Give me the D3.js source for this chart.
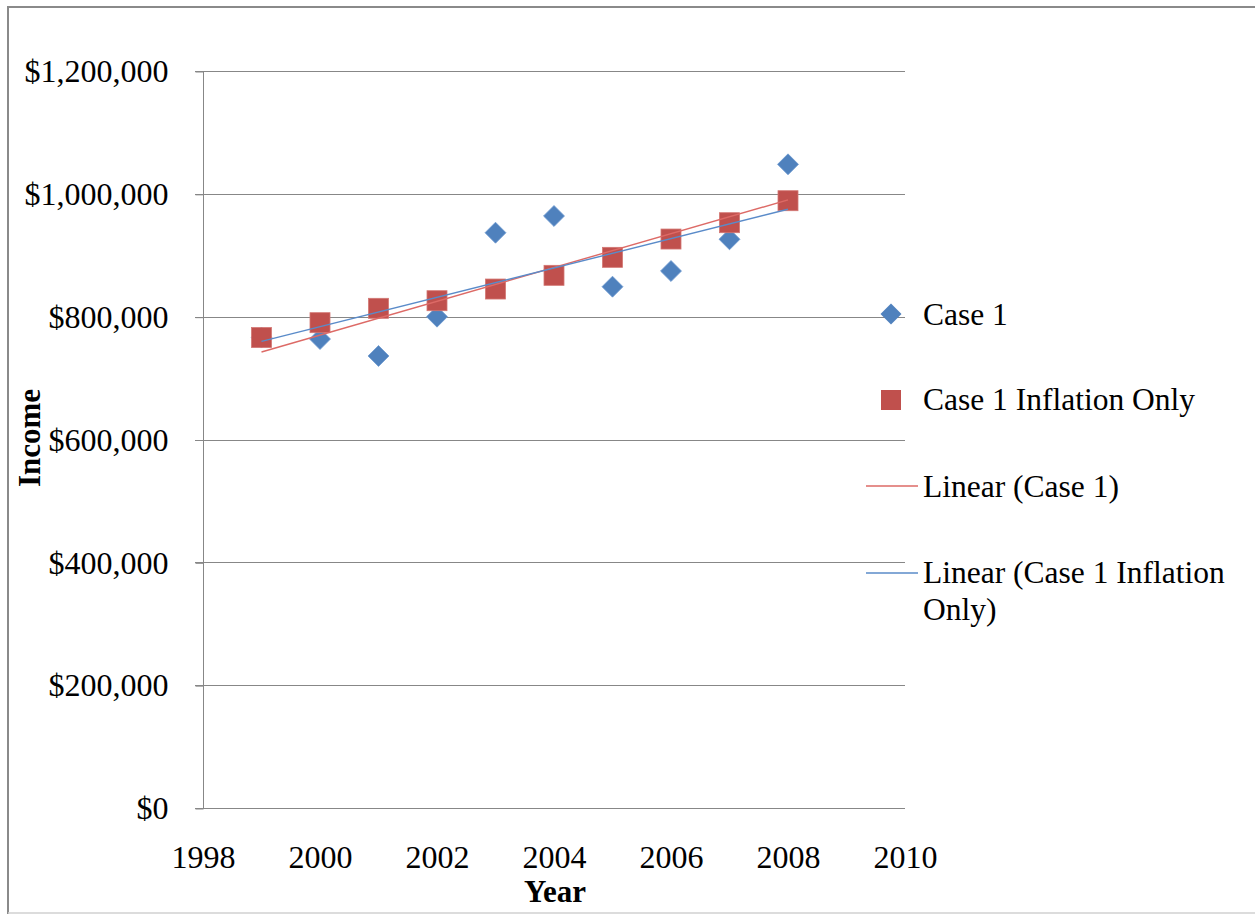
<!DOCTYPE html>
<html>
<head>
<meta charset="utf-8">
<script src="https://cdn.jsdelivr.net/npm/d3@7"></script>
<style>
  html, body { margin: 0; padding: 0; background: #fff; }
  svg { display: block; font-family: "Liberation Serif", "Times New Roman", serif; }
</style>
</head>
<body>
<svg id="chart" width="1255" height="914"></svg>
<script>
// Income by year
const years = [1999, 2000, 2001, 2002, 2003, 2004, 2005, 2006, 2007, 2008];
const case1 = [766000, 763600, 736000, 800000, 936700, 963900, 848800, 874300, 926000, 1048000];
const case1Inflation = [766000, 790200, 813600, 826000, 845000, 867300, 896600, 926400, 953000, 988800];

const xTicks = [1998, 2000, 2002, 2004, 2006, 2008, 2010];
const yTicks = [0, 200000, 400000, 600000, 800000, 1000000, 1200000];

const legendLabels = ["Case 1", "Case 1 Inflation Only", "Linear (Case 1)", "Linear (Case 1 Inflation Only)"];

const blue = "#4F81BD", red = "#C0504D";
const trendRed = "#DD6A66", trendBlue = "#5A8BC9";
const gridColor = "#878787";

const svg = d3.select("#chart");

// outer frame
svg.append("line").attr("x1", 8).attr("x2", 1255).attr("y1", 7).attr("y2", 7)
  .attr("stroke", "#8a8a8a").attr("stroke-width", 2);
svg.append("line").attr("x1", 8).attr("x2", 8).attr("y1", 6).attr("y2", 914)
  .attr("stroke", "#8a8a8a").attr("stroke-width", 2);
svg.append("line").attr("x1", 8).attr("x2", 1255).attr("y1", 913).attr("y2", 913)
  .attr("stroke", "#d0d0d0").attr("stroke-width", 1.5);

const x = d3.scaleLinear().domain([1998, 2010]).range([203, 905]);
const y = d3.scaleLinear().domain([0, 1200000]).range([808, 71]);

// gridlines
svg.append("g").selectAll("line").data(yTicks.filter(d => d > 0)).join("line")
  .attr("x1", 195).attr("x2", 905)
  .attr("y1", d => Math.round(y(d)) + 0.5).attr("y2", d => Math.round(y(d)) + 0.5)
  .attr("stroke", gridColor).attr("stroke-width", 1);

// y axis
const yAxis = d3.axisLeft(y).tickValues(yTicks).tickSize(8).tickPadding(27)
  .tickFormat(d => "$" + d3.format(",")(d));
const gy = svg.append("g").attr("transform", "translate(203.5,0.5)").call(yAxis);
gy.select(".domain").attr("stroke", gridColor).attr("d", "M0," + (y(1200000) - 0.5) + "V" + (y(0) - 0.5));
gy.selectAll(".tick line").attr("stroke", gridColor);
gy.selectAll(".tick text").attr("font-size", 32).attr("fill", "#000")
  .attr("font-family", "Liberation Serif").attr("dy", "0.32em");

// x axis
const xAxis = d3.axisBottom(x).tickValues(xTicks).tickSize(0).tickPadding(59).tickFormat(d3.format("d"));
const gx = svg.append("g").attr("transform", "translate(0," + (Math.round(y(0)) + 0.5) + ")").call(xAxis);
gx.select(".domain").attr("stroke", gridColor).attr("d", "M195,0H905");
gx.selectAll(".tick text").attr("font-size", 32).attr("fill", "#000")
  .attr("font-family", "Liberation Serif").attr("dy", "0");

// axis titles
svg.append("text").attr("x", 555).attr("y", 902).attr("text-anchor", "middle")
  .attr("font-size", 31).attr("font-weight", "bold").text("Year");
svg.append("text").attr("transform", "translate(40,438) rotate(-90)").attr("text-anchor", "middle")
  .attr("font-size", 31).attr("font-weight", "bold").text("Income");

// least-squares trend line over the data's year range
function trend(xs, ys) {
  const mx = d3.mean(xs), my = d3.mean(ys);
  const sxy = d3.sum(xs, (v, i) => (v - mx) * (ys[i] - my));
  const sxx = d3.sum(xs, v => (v - mx) * (v - mx));
  const b = sxy / sxx, a = my - b * mx;
  const ext = d3.extent(xs);
  return ext.map(v => [v, a + b * v]);
}
const line = d3.line().x(d => x(d[0])).y(d => y(d[1]));

// markers
const diamond = d3.symbol().type(d3.symbolDiamond2).size(280);
svg.append("g").selectAll("path").data(years.map((yr, i) => [yr, case1[i]])).join("path")
  .attr("d", diamond)
  .attr("transform", d => "translate(" + x(d[0]) + "," + y(d[1]) + ")")
  .attr("fill", blue).attr("stroke", "#6f9bd0").attr("stroke-width", 0.8);

svg.append("g").selectAll("rect").data(years.map((yr, i) => [yr, case1Inflation[i]])).join("rect")
  .attr("x", d => x(d[0]) - 10).attr("y", d => y(d[1]) - 10)
  .attr("width", 20).attr("height", 20)
  .attr("fill", red).attr("stroke", "#d37773").attr("stroke-width", 0.8);

// trend lines
svg.append("path").datum(trend(years, case1)).attr("d", line)
  .attr("fill", "none").attr("stroke", trendRed).attr("stroke-width", 1.4);
svg.append("path").datum(trend(years, case1Inflation)).attr("d", line)
  .attr("fill", "none").attr("stroke", trendBlue).attr("stroke-width", 1.4);

// legend
const lg = svg.append("g").attr("font-size", 31.5).attr("fill", "#000");
lg.append("path").attr("d", diamond).attr("transform", "translate(891,314)").attr("fill", blue);
lg.append("text").attr("x", 923).attr("y", 325).text(legendLabels[0]);
lg.append("rect").attr("x", 881).attr("y", 390).attr("width", 20).attr("height", 20).attr("fill", red);
lg.append("text").attr("x", 923).attr("y", 410).text(legendLabels[1]);
lg.append("line").attr("x1", 866).attr("x2", 918).attr("y1", 486).attr("y2", 486)
  .attr("stroke", trendRed).attr("stroke-width", 1.4);
lg.append("text").attr("x", 923).attr("y", 497).text(legendLabels[2]);
lg.append("line").attr("x1", 866).attr("x2", 918).attr("y1", 573).attr("y2", 573)
  .attr("stroke", trendBlue).attr("stroke-width", 1.4);
const t4 = lg.append("text").attr("x", 923).attr("y", 583);
t4.append("tspan").text("Linear (Case 1 Inflation");
t4.append("tspan").attr("x", 923).attr("y", 620).text("Only)");
</script>
</body>
</html>
